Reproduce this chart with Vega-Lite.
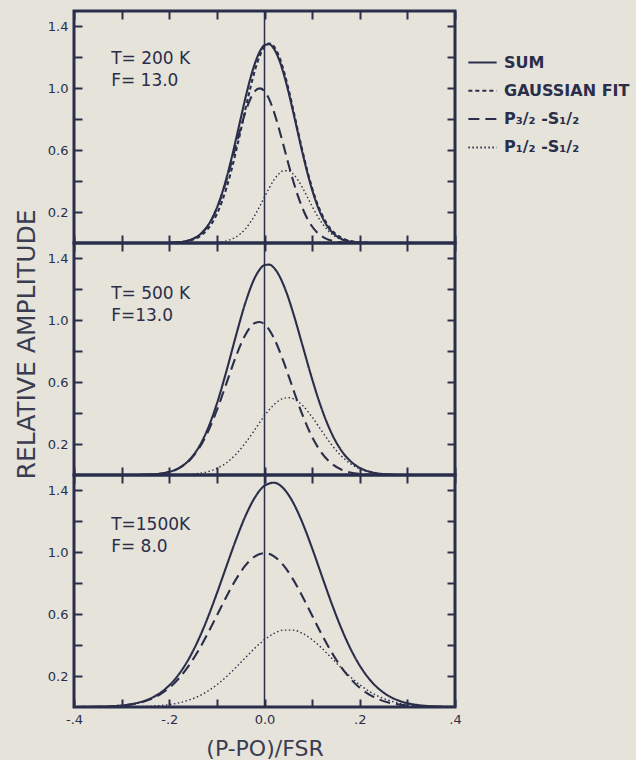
{
  "$schema": "https://vega.github.io/schema/vega-lite/v6.json",
  "background": "#e5e3da",
  "padding": {"left": 12, "top": 8, "right": 4, "bottom": 2},
  "spacing": 0,
  "bounds": "flush",
  "config": {
    "view": {"stroke": "#2b2e4a", "strokeWidth": 3},
    "axis": {"grid": false, "domain": false, "ticks": true, "tickColor": "#2b2e4a", "tickWidth": 2, "tickSize": -8, "labelFont": "DejaVu Sans", "labelFontSize": 13, "labelColor": "#2b2e4a", "labelPadding": 14, "titleFont": "DejaVu Sans", "titleFontWeight": "normal", "titleColor": "#3a3c52"},
    "legend": {"orient": "none", "legendX": 393, "legendY": 36, "symbolType": "stroke", "symbolSize": 800, "symbolStrokeWidth": 2, "symbolStrokeColor": "#2b2e4a", "labelFont": "DejaVu Sans", "labelFontSize": 16, "labelFontWeight": "bold", "labelColor": "#2b2e4a", "labelOffset": 6, "rowPadding": 4.3, "padding": 0, "title": null}
  },
  "resolve": {"scale": {"strokeDash": "independent"}, "legend": {"strokeDash": "independent"}},
  "datasets": {
    "p200": [
      {"x": -0.20, "sum": 0.0013, "fit": 0.0011, "p32": 0.0013, "p12": 0.0},
      {"x": -0.19, "sum": 0.0025, "fit": 0.0022, "p32": 0.0025, "p12": 0.0},
      {"x": -0.18, "sum": 0.0048, "fit": 0.0041, "p32": 0.0048, "p12": 0.0},
      {"x": -0.17, "sum": 0.0088, "fit": 0.0074, "p32": 0.0088, "p12": 0.0},
      {"x": -0.16, "sum": 0.0156, "fit": 0.0129, "p32": 0.0156, "p12": 0.0},
      {"x": -0.15, "sum": 0.0268, "fit": 0.0218, "p32": 0.0267, "p12": 0.0001},
      {"x": -0.14, "sum": 0.0441, "fit": 0.0357, "p32": 0.0439, "p12": 0.0002},
      {"x": -0.13, "sum": 0.0702, "fit": 0.0567, "p32": 0.0698, "p12": 0.0004},
      {"x": -0.12, "sum": 0.1077, "fit": 0.0872, "p32": 0.1067, "p12": 0.0010},
      {"x": -0.11, "sum": 0.1594, "fit": 0.1299, "p32": 0.1574, "p12": 0.0020},
      {"x": -0.10, "sum": 0.2276, "fit": 0.1874, "p32": 0.2236, "p12": 0.0040},
      {"x": -0.09, "sum": 0.3139, "fit": 0.2619, "p32": 0.3063, "p12": 0.0076},
      {"x": -0.08, "sum": 0.4178, "fit": 0.3546, "p32": 0.4041, "p12": 0.0137},
      {"x": -0.07, "sum": 0.5374, "fit": 0.4650, "p32": 0.5139, "p12": 0.0235},
      {"x": -0.06, "sum": 0.6686, "fit": 0.5906, "p32": 0.6298, "p12": 0.0388},
      {"x": -0.05, "sum": 0.8049, "fit": 0.7266, "p32": 0.7439, "p12": 0.0610},
      {"x": -0.04, "sum": 0.9383, "fit": 0.8659, "p32": 0.8467, "p12": 0.0916},
      {"x": -0.03, "sum": 1.0603, "fit": 0.9995, "p32": 0.9287, "p12": 0.1316},
      {"x": -0.02, "sum": 1.1623, "fit": 1.1176, "p32": 0.9817, "p12": 0.1806},
      {"x": -0.01, "sum": 1.2370, "fit": 1.2103, "p32": 1.0000, "p12": 0.2370},
      {"x": 0.00, "sum": 1.2789, "fit": 1.2696, "p32": 0.9817, "p12": 0.2972},
      {"x": 0.01, "sum": 1.2849, "fit": 1.2900, "p32": 0.9287, "p12": 0.3562},
      {"x": 0.02, "sum": 1.2547, "fit": 1.2696, "p32": 0.8467, "p12": 0.4080},
      {"x": 0.03, "sum": 1.1906, "fit": 1.2103, "p32": 0.7439, "p12": 0.4467},
      {"x": 0.04, "sum": 1.0971, "fit": 1.1176, "p32": 0.6298, "p12": 0.4673},
      {"x": 0.05, "sum": 0.9812, "fit": 0.9995, "p32": 0.5139, "p12": 0.4673},
      {"x": 0.06, "sum": 0.8508, "fit": 0.8659, "p32": 0.4041, "p12": 0.4467},
      {"x": 0.07, "sum": 0.7143, "fit": 0.7266, "p32": 0.3063, "p12": 0.4080},
      {"x": 0.08, "sum": 0.5798, "fit": 0.5906, "p32": 0.2236, "p12": 0.3562},
      {"x": 0.09, "sum": 0.4546, "fit": 0.4650, "p32": 0.1574, "p12": 0.2972},
      {"x": 0.10, "sum": 0.3437, "fit": 0.3546, "p32": 0.1067, "p12": 0.2370},
      {"x": 0.11, "sum": 0.2504, "fit": 0.2619, "p32": 0.0698, "p12": 0.1806},
      {"x": 0.12, "sum": 0.1755, "fit": 0.1874, "p32": 0.0439, "p12": 0.1316},
      {"x": 0.13, "sum": 0.1183, "fit": 0.1299, "p32": 0.0267, "p12": 0.0916},
      {"x": 0.14, "sum": 0.0766, "fit": 0.0872, "p32": 0.0156, "p12": 0.0610},
      {"x": 0.15, "sum": 0.0476, "fit": 0.0567, "p32": 0.0088, "p12": 0.0388},
      {"x": 0.16, "sum": 0.0283, "fit": 0.0357, "p32": 0.0048, "p12": 0.0235},
      {"x": 0.17, "sum": 0.0162, "fit": 0.0218, "p32": 0.0025, "p12": 0.0137},
      {"x": 0.18, "sum": 0.0089, "fit": 0.0129, "p32": 0.0013, "p12": 0.0076},
      {"x": 0.19, "sum": 0.0046, "fit": 0.0074, "p32": 0.0006, "p12": 0.0040},
      {"x": 0.20, "sum": 0.0023, "fit": 0.0041, "p32": 0.0003, "p12": 0.0020},
      {"x": 0.21, "sum": 0.0010, "fit": 0.0022, "p32": 0.0001, "p12": 0.0009},
      {"x": 0.22, "sum": 0.0004, "fit": 0.0011, "p32": 0.0000, "p12": 0.0004}
    ],
    "p500": [
      {"x": -0.26, "sum": 0.0011, "p32": 0.0011, "p12": 0.0},
      {"x": -0.24, "sum": 0.0032, "p32": 0.0031, "p12": 0.0001},
      {"x": -0.22, "sum": 0.0084, "p32": 0.0081, "p12": 0.0003},
      {"x": -0.20, "sum": 0.0200, "p32": 0.0195, "p12": 0.0005},
      {"x": -0.18, "sum": 0.0445, "p32": 0.0430, "p12": 0.0015},
      {"x": -0.16, "sum": 0.0907, "p32": 0.0868, "p12": 0.0039},
      {"x": -0.14, "sum": 0.1698, "p32": 0.1604, "p12": 0.0094},
      {"x": -0.12, "sum": 0.2918, "p32": 0.2709, "p12": 0.0209},
      {"x": -0.10, "sum": 0.4612, "p32": 0.4188, "p12": 0.0424},
      {"x": -0.08, "sum": 0.6710, "p32": 0.5923, "p12": 0.0787},
      {"x": -0.06, "sum": 0.9000, "p32": 0.7664, "p12": 0.1336},
      {"x": -0.04, "sum": 1.1148, "p32": 0.9074, "p12": 0.2074},
      {"x": -0.02, "sum": 1.2776, "p32": 0.9830, "p12": 0.2946},
      {"x": -0.01, "sum": 1.3292, "p32": 0.9896, "p12": 0.3396},
      {"x": 0.00, "sum": 1.3572, "p32": 0.9742, "p12": 0.3830},
      {"x": 0.01, "sum": 1.3603, "p32": 0.9381, "p12": 0.4222},
      {"x": 0.02, "sum": 1.3390, "p32": 0.8836, "p12": 0.4554},
      {"x": 0.04, "sum": 1.2286, "p32": 0.7331, "p12": 0.4955},
      {"x": 0.05, "sum": 1.1459, "p32": 0.6459, "p12": 0.5000},
      {"x": 0.06, "sum": 1.0498, "p32": 0.5565, "p12": 0.4933},
      {"x": 0.08, "sum": 0.8360, "p32": 0.3866, "p12": 0.4494},
      {"x": 0.10, "sum": 0.6202, "p32": 0.2457, "p12": 0.3745},
      {"x": 0.12, "sum": 0.4285, "p32": 0.1429, "p12": 0.2856},
      {"x": 0.14, "sum": 0.2753, "p32": 0.0760, "p12": 0.1993},
      {"x": 0.16, "sum": 0.1642, "p32": 0.0370, "p12": 0.1272},
      {"x": 0.18, "sum": 0.0908, "p32": 0.0165, "p12": 0.0743},
      {"x": 0.20, "sum": 0.0464, "p32": 0.0067, "p12": 0.0397},
      {"x": 0.22, "sum": 0.0219, "p32": 0.0025, "p12": 0.0194},
      {"x": 0.24, "sum": 0.0095, "p32": 0.0008, "p12": 0.0087},
      {"x": 0.26, "sum": 0.0038, "p32": 0.0002, "p12": 0.0036},
      {"x": 0.28, "sum": 0.0013, "p32": 0.0000, "p12": 0.0013}
    ],
    "p1500": [
      {"x": -0.40, "sum": 0.0002, "p32": 0.0002, "p12": 0.0},
      {"x": -0.38, "sum": 0.0005, "p32": 0.0005, "p12": 0.0},
      {"x": -0.36, "sum": 0.0012, "p32": 0.0012, "p12": 0.0},
      {"x": -0.34, "sum": 0.0025, "p32": 0.0024, "p12": 0.0001},
      {"x": -0.32, "sum": 0.0051, "p32": 0.0048, "p12": 0.0003},
      {"x": -0.30, "sum": 0.0098, "p32": 0.0092, "p12": 0.0006},
      {"x": -0.28, "sum": 0.0180, "p32": 0.0168, "p12": 0.0012},
      {"x": -0.26, "sum": 0.0319, "p32": 0.0295, "p12": 0.0024},
      {"x": -0.24, "sum": 0.0543, "p32": 0.0496, "p12": 0.0047},
      {"x": -0.22, "sum": 0.0889, "p32": 0.0801, "p12": 0.0088},
      {"x": -0.20, "sum": 0.1397, "p32": 0.1240, "p12": 0.0157},
      {"x": -0.18, "sum": 0.2109, "p32": 0.1842, "p12": 0.0267},
      {"x": -0.16, "sum": 0.3059, "p32": 0.2624, "p12": 0.0435},
      {"x": -0.14, "sum": 0.4263, "p32": 0.3586, "p12": 0.0677},
      {"x": -0.12, "sum": 0.5710, "p32": 0.4701, "p12": 0.1009},
      {"x": -0.10, "sum": 0.7350, "p32": 0.5912, "p12": 0.1438},
      {"x": -0.08, "sum": 0.9091, "p32": 0.7130, "p12": 0.1961},
      {"x": -0.06, "sum": 1.0808, "p32": 0.8250, "p12": 0.2558},
      {"x": -0.04, "sum": 1.2347, "p32": 0.9155, "p12": 0.3192},
      {"x": -0.02, "sum": 1.3556, "p32": 0.9745, "p12": 0.3811},
      {"x": 0.00, "sum": 1.4303, "p32": 0.9950, "p12": 0.4353},
      {"x": 0.02, "sum": 1.4502, "p32": 0.9745, "p12": 0.4757},
      {"x": 0.04, "sum": 1.4127, "p32": 0.9155, "p12": 0.4972},
      {"x": 0.06, "sum": 1.3222, "p32": 0.8250, "p12": 0.4972},
      {"x": 0.08, "sum": 1.1887, "p32": 0.7130, "p12": 0.4757},
      {"x": 0.10, "sum": 1.0265, "p32": 0.5912, "p12": 0.4353},
      {"x": 0.12, "sum": 0.8512, "p32": 0.4701, "p12": 0.3811},
      {"x": 0.14, "sum": 0.6778, "p32": 0.3586, "p12": 0.3192},
      {"x": 0.16, "sum": 0.5182, "p32": 0.2624, "p12": 0.2558},
      {"x": 0.18, "sum": 0.3803, "p32": 0.1842, "p12": 0.1961},
      {"x": 0.20, "sum": 0.2678, "p32": 0.1240, "p12": 0.1438},
      {"x": 0.22, "sum": 0.1810, "p32": 0.0801, "p12": 0.1009},
      {"x": 0.24, "sum": 0.1173, "p32": 0.0496, "p12": 0.0677},
      {"x": 0.26, "sum": 0.0730, "p32": 0.0295, "p12": 0.0435},
      {"x": 0.28, "sum": 0.0435, "p32": 0.0168, "p12": 0.0267},
      {"x": 0.30, "sum": 0.0249, "p32": 0.0092, "p12": 0.0157},
      {"x": 0.32, "sum": 0.0136, "p32": 0.0048, "p12": 0.0088},
      {"x": 0.34, "sum": 0.0071, "p32": 0.0024, "p12": 0.0047},
      {"x": 0.36, "sum": 0.0036, "p32": 0.0012, "p12": 0.0024},
      {"x": 0.38, "sum": 0.0017, "p32": 0.0005, "p12": 0.0012},
      {"x": 0.40, "sum": 0.0008, "p32": 0.0002, "p12": 0.0006}
    ]
  },
  "vconcat": [
    {
      "width": 381, "height": 232,
      "resolve": {"axis": {"x": "independent", "y": "independent"}},
      "layer": [
        {
          "data": {"values": [{}]},
          "mark": {"type": "rule", "color": "#2b2e4a", "strokeWidth": 1.5},
          "encoding": {"x": {"datum": 0, "type": "quantitative", "scale": {"domain": [-0.4, 0.4], "nice": false, "zero": false}, "axis": {"orient": "top", "values": [-0.4, -0.3, -0.2, -0.1, 0, 0.1, 0.2, 0.3, 0.4], "labels": false, "title": null}}}
        },
        {
          "data": {"values": [{}]},
          "mark": {"type": "text", "text": ["T= 200 K", "F= 13.0"], "align": "left", "baseline": "middle", "lineHeight": 22, "font": "DejaVu Sans", "fontSize": 17, "color": "#2b2e4a"},
          "encoding": {
            "x": {"datum": -0.322, "type": "quantitative", "axis": null},
            "y": {"datum": 1.19, "type": "quantitative", "scale": {"domain": [0, 1.5], "nice": false}, "axis": {"orient": "right", "values": [0.2, 0.4, 0.6, 0.8, 1.0, 1.2, 1.4], "labels": false, "title": null}}
          }
        },
        {
          "data": {"name": "p200"},
          "transform": [{"fold": ["sum", "fit", "p32", "p12"], "as": ["series", "amp"]}, {"filter": "datum.amp != null && datum.series != 'p12'"}],
          "mark": {"type": "line", "color": "#2b2e4a", "strokeWidth": 2.1, "interpolate": "monotone"},
          "encoding": {
            "x": {"field": "x", "type": "quantitative", "axis": {"orient": "bottom", "values": [-0.4, -0.3, -0.2, -0.1, 0, 0.1, 0.2, 0.3, 0.4], "labels": false, "title": null}},
            "y": {"field": "amp", "type": "quantitative", "axis": {"orient": "left", "values": [0.2, 0.4, 0.6, 0.8, 1.0, 1.2, 1.4], "labelExpr": "abs((datum.value * 10) % 4 - 2) < 0.5 ? format(datum.value, '.1f') : ''", "title": null}},
            "strokeDash": {"field": "series", "type": "nominal", "scale": {"domain": ["sum", "fit", "p32", "p12"], "range": [[1, 0], [4, 3], [11, 6], [1.5, 2.5]]}, "legend": {"labelExpr": "datum.label == 'sum' ? 'SUM' : datum.label == 'fit' ? 'GAUSSIAN FIT' : datum.label == 'p32' ? 'P₃/₂  -S₁/₂' : 'P₁/₂  -S₁/₂'"}}
          }
        },
        {
          "data": {"name": "p200"},
          "transform": [{"fold": ["sum", "fit", "p32", "p12"], "as": ["series", "amp"]}, {"filter": "datum.amp != null && datum.series == 'p12'"}],
          "mark": {"type": "line", "color": "#2b2e4a", "strokeWidth": 1.4, "interpolate": "monotone"},
          "encoding": {
            "x": {"field": "x", "type": "quantitative", "axis": null},
            "y": {"field": "amp", "type": "quantitative", "axis": null},
            "strokeDash": {"field": "series", "type": "nominal", "scale": {"domain": ["sum", "fit", "p32", "p12"], "range": [[1, 0], [4, 3], [11, 6], [1.5, 2.5]]}, "legend": {"labelExpr": "datum.label == 'sum' ? 'SUM' : datum.label == 'fit' ? 'GAUSSIAN FIT' : datum.label == 'p32' ? 'P₃/₂  -S₁/₂' : 'P₁/₂  -S₁/₂'"}}
          }
        }
      ]
    },
    {
      "width": 381, "height": 232,
      "resolve": {"axis": {"x": "independent", "y": "independent"}},
      "layer": [
        {
          "data": {"values": [{}]},
          "mark": {"type": "rule", "color": "#2b2e4a", "strokeWidth": 1.5},
          "encoding": {"x": {"datum": 0, "type": "quantitative", "scale": {"domain": [-0.4, 0.4], "nice": false, "zero": false}, "axis": {"orient": "top", "values": [-0.4, -0.3, -0.2, -0.1, 0, 0.1, 0.2, 0.3, 0.4], "labels": false, "title": null}}}
        },
        {
          "data": {"values": [{}]},
          "mark": {"type": "text", "text": ["T= 500 K", "F=13.0"], "align": "left", "baseline": "middle", "lineHeight": 22, "font": "DejaVu Sans", "fontSize": 17, "color": "#2b2e4a"},
          "encoding": {
            "x": {"datum": -0.322, "type": "quantitative", "axis": null},
            "y": {"datum": 1.17, "type": "quantitative", "scale": {"domain": [0, 1.5], "nice": false}, "axis": {"orient": "right", "values": [0.2, 0.4, 0.6, 0.8, 1.0, 1.2, 1.4], "labels": false, "title": null}}
          }
        },
        {
          "data": {"name": "p500"},
          "transform": [{"fold": ["sum", "p32", "p12"], "as": ["series", "amp"]}, {"filter": "datum.amp != null && datum.series != 'p12'"}],
          "mark": {"type": "line", "color": "#2b2e4a", "strokeWidth": 2.1, "interpolate": "monotone"},
          "encoding": {
            "x": {"field": "x", "type": "quantitative", "axis": {"orient": "bottom", "values": [-0.4, -0.3, -0.2, -0.1, 0, 0.1, 0.2, 0.3, 0.4], "labels": false, "title": null}},
            "y": {"field": "amp", "type": "quantitative", "axis": {"orient": "left", "values": [0.2, 0.4, 0.6, 0.8, 1.0, 1.2, 1.4], "labelExpr": "abs((datum.value * 10) % 4 - 2) < 0.5 ? format(datum.value, '.1f') : ''", "title": "RELATIVE AMPLITUDE", "titleFontSize": 25, "titlePadding": 8, "titleY": 101}},
            "strokeDash": {"field": "series", "type": "nominal", "scale": {"domain": ["sum", "fit", "p32", "p12"], "range": [[1, 0], [4, 3], [11, 6], [1.5, 2.5]]}, "legend": null}
          }
        },
        {
          "data": {"name": "p500"},
          "transform": [{"fold": ["sum", "p32", "p12"], "as": ["series", "amp"]}, {"filter": "datum.amp != null && datum.series == 'p12'"}],
          "mark": {"type": "line", "color": "#2b2e4a", "strokeWidth": 1.4, "interpolate": "monotone"},
          "encoding": {
            "x": {"field": "x", "type": "quantitative", "axis": null},
            "y": {"field": "amp", "type": "quantitative", "axis": null},
            "strokeDash": {"field": "series", "type": "nominal", "scale": {"domain": ["sum", "fit", "p32", "p12"], "range": [[1, 0], [4, 3], [11, 6], [1.5, 2.5]]}, "legend": null}
          }
        }
      ]
    },
    {
      "width": 381, "height": 232,
      "resolve": {"axis": {"x": "independent", "y": "independent"}},
      "layer": [
        {
          "data": {"values": [{}]},
          "mark": {"type": "rule", "color": "#2b2e4a", "strokeWidth": 1.5},
          "encoding": {"x": {"datum": 0, "type": "quantitative", "scale": {"domain": [-0.4, 0.4], "nice": false, "zero": false}, "axis": {"orient": "top", "values": [-0.4, -0.3, -0.2, -0.1, 0, 0.1, 0.2, 0.3, 0.4], "labels": false, "title": null}}}
        },
        {
          "data": {"values": [{}]},
          "mark": {"type": "text", "text": ["T=1500K", "F= 8.0"], "align": "left", "baseline": "middle", "lineHeight": 22, "font": "DejaVu Sans", "fontSize": 17, "color": "#2b2e4a"},
          "encoding": {
            "x": {"datum": -0.322, "type": "quantitative", "axis": null},
            "y": {"datum": 1.175, "type": "quantitative", "scale": {"domain": [0, 1.5], "nice": false}, "axis": {"orient": "right", "values": [0.2, 0.4, 0.6, 0.8, 1.0, 1.2, 1.4], "labels": false, "title": null}}
          }
        },
        {
          "data": {"name": "p1500"},
          "transform": [{"fold": ["sum", "p32", "p12"], "as": ["series", "amp"]}, {"filter": "datum.amp != null && datum.series != 'p12'"}],
          "mark": {"type": "line", "color": "#2b2e4a", "strokeWidth": 2.1, "interpolate": "monotone"},
          "encoding": {
            "x": {"field": "x", "type": "quantitative", "axis": {"orient": "bottom", "values": [-0.4, -0.3, -0.2, -0.1, 0, 0.1, 0.2, 0.3, 0.4], "labelExpr": "round(datum.value * 10) == -4 ? '-.4' : round(datum.value * 10) == -2 ? '-.2' : round(datum.value * 10) == 0 ? '0.0' : round(datum.value * 10) == 2 ? '.2' : round(datum.value * 10) == 4 ? '.4' : ''", "labelFlush": false, "labelOverlap": false, "labelBound": false, "title": "(P-PO)/FSR", "titleFontSize": 22, "titlePadding": 12}},
            "y": {"field": "amp", "type": "quantitative", "axis": {"orient": "left", "values": [0.2, 0.4, 0.6, 0.8, 1.0, 1.2, 1.4], "labelExpr": "abs((datum.value * 10) % 4 - 2) < 0.5 ? format(datum.value, '.1f') : ''", "title": null}},
            "strokeDash": {"field": "series", "type": "nominal", "scale": {"domain": ["sum", "fit", "p32", "p12"], "range": [[1, 0], [4, 3], [11, 6], [1.5, 2.5]]}, "legend": null}
          }
        },
        {
          "data": {"name": "p1500"},
          "transform": [{"fold": ["sum", "p32", "p12"], "as": ["series", "amp"]}, {"filter": "datum.amp != null && datum.series == 'p12'"}],
          "mark": {"type": "line", "color": "#2b2e4a", "strokeWidth": 1.4, "interpolate": "monotone"},
          "encoding": {
            "x": {"field": "x", "type": "quantitative", "axis": null},
            "y": {"field": "amp", "type": "quantitative", "axis": null},
            "strokeDash": {"field": "series", "type": "nominal", "scale": {"domain": ["sum", "fit", "p32", "p12"], "range": [[1, 0], [4, 3], [11, 6], [1.5, 2.5]]}, "legend": null}
          }
        }
      ]
    }
  ]
}
